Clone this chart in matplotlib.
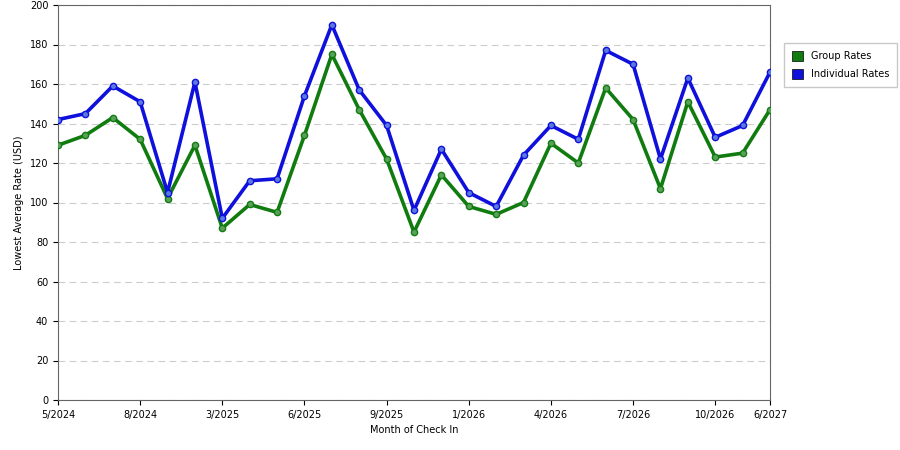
import matplotlib.pyplot as plt
import numpy as np

# data
months = ["5/2024", "8/2024", "3/2025", "6/2025", "9/2025", "1/2026", "4/2026", "7/2026", "10/2026", "6/2027"]
tick_idx = [0, 3, 6, 9, 12, 15, 18, 21, 24, 26]
individual = [142, 145, 159, 151, 105, 161, 92, 111, 112, 154, 190, 157, 139, 96, 127,
              105, 98, 124, 139, 132, 177, 170, 122, 163, 133, 139, 166]
group = [129, 134, 143, 132, 102, 129, 87, 99, 95, 134, 175, 147, 122, 85, 114,
         98, 94, 100, 130, 120, 158, 142, 107, 151, 123, 125, 147]

x = np.arange(len(individual))

fig = plt.figure(figsize=(9, 4.5), dpi=100)
ax = fig.add_axes([58 / 900, 50 / 450, 712 / 900, 395 / 450])

ax.plot(x, group, color="#107c10", lw=2.6, marker="o", ms=4.5,
        mfc="#5aa05a", mec="#107c10", label="Group Rates", zorder=3)
ax.plot(x, individual, color="#1010dd", lw=2.6, marker="o", ms=4.5,
        mfc="#5a7ae0", mec="#1010dd", label="Individual Rates", zorder=3)

ax.set_xlim(0, len(x) - 1)
ax.set_ylim(0, 200)
ax.set_yticks(range(0, 201, 20))
ax.set_xticks(tick_idx)
ax.set_xticklabels(months)
ax.tick_params(labelsize=7)
for s in ax.spines.values():
    s.set_color("#666666")
ax.grid(axis="y", ls=(0, (6, 4)), color="#cccccc", lw=0.8)
ax.set_xlabel("Month of Check In", fontsize=7)
ax.set_ylabel("Lowest Average Rate (USD)", fontsize=7)

handles = [plt.Rectangle((0, 0), 1, 1, fc="#107c10", ec="black", lw=0.5),
           plt.Rectangle((0, 0), 1, 1, fc="#1010dd", ec="black", lw=0.5)]
fig.legend(handles, ["Group Rates", "Individual Rates"], loc="upper left",
           bbox_to_anchor=(779 / 900, 1 - 38 / 450), fontsize=7, fancybox=False,
           edgecolor="#bbbbbb", handlelength=1.2, handleheight=1.2,
           borderpad=0.8, labelspacing=0.8)

fig.savefig("out.png")
